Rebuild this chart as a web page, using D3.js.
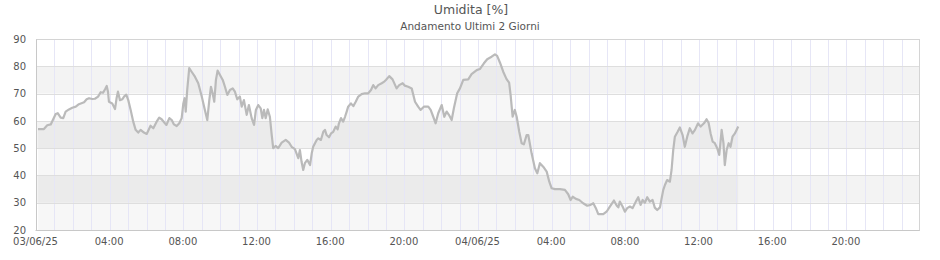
<!DOCTYPE html>
<html>
<head>
<meta charset="utf-8">
<script src="https://cdn.jsdelivr.net/npm/d3@7"></script>
<style>
  html, body { margin: 0; padding: 0; background: #fff; }
  svg { display: block; }
  text { font-family: "DejaVu Sans", sans-serif; }
</style>
</head>
<body>
<svg id="chart" width="940" height="260"></svg>
<script>
// ---- data ----
const chartTitle = "Umidita [%]";
const chartSubtitle = "Andamento Ultimi 2 Giorni";
const startDate = [2025, 5, 3];      // 03/06/2025 00:00
const spanHours = 48;
const yTicks = [20, 30, 40, 50, 60, 70, 80, 90];
const xLabelHours = [0, 4, 8, 12, 16, 20, 24, 28, 32, 36, 40, 44];

// hours since 03/06/2025 00:00
const hours = [
  0.11, 0.43, 0.61, 0.80, 1.07, 1.18, 1.34, 1.48, 1.61, 1.79, 1.97, 2.16, 2.33, 2.61, 2.75, 2.88,
  3.06, 3.20, 3.37, 3.51, 3.64, 3.75, 3.84, 3.91, 3.96, 4.14, 4.29, 4.38, 4.45, 4.56, 4.69, 4.78,
  4.90, 5.01, 5.14, 5.28, 5.41, 5.55, 5.68, 5.86, 6.01, 6.22, 6.37, 6.55, 6.69, 6.82, 7.00, 7.08,
  7.24, 7.37, 7.49, 7.64, 7.78, 7.91, 8.00, 8.07, 8.13, 8.21, 8.32, 8.45, 8.63, 8.81, 9.00, 9.17,
  9.30, 9.41, 9.50, 9.59, 9.68, 9.77, 9.86, 9.99, 10.14, 10.26, 10.39, 10.53, 10.68, 10.80, 10.93, 11.07,
  11.17, 11.29, 11.44, 11.56, 11.71, 11.84, 11.94, 12.07, 12.20, 12.29, 12.38, 12.47, 12.58, 12.70, 12.80, 12.88,
  13.01, 13.15, 13.34, 13.56, 13.74, 13.88, 14.06, 14.24, 14.33, 14.42, 14.51, 14.60, 14.73, 14.88, 14.97, 15.05,
  15.24, 15.33, 15.47, 15.60, 15.69, 15.78, 15.91, 16.02, 16.14, 16.27, 16.38, 16.45, 16.56, 16.68, 16.78, 16.87,
  16.95, 17.10, 17.23, 17.36, 17.50, 17.68, 17.86, 18.04, 18.19, 18.31, 18.44, 18.58, 18.77, 18.91, 19.00, 19.18,
  19.36, 19.58, 19.72, 19.91, 20.03, 20.21, 20.40, 20.58, 20.75, 20.88, 21.06, 21.30, 21.43, 21.57, 21.70, 21.84,
  22.03, 22.17, 22.30, 22.42, 22.57, 22.69, 22.87, 23.02, 23.20, 23.47, 23.65, 23.93, 24.10, 24.32, 24.50, 24.74,
  24.92, 25.04, 25.19, 25.37, 25.55, 25.69, 25.77, 25.88, 26.00, 26.10, 26.24, 26.37, 26.49, 26.64, 26.73, 26.91,
  27.09, 27.22, 27.36, 27.54, 27.73, 27.87, 28.00, 28.18, 28.45, 28.72, 28.90, 29.03, 29.14, 29.32, 29.50, 29.71,
  29.93, 30.11, 30.26, 30.40, 30.53, 30.80, 30.98, 31.16, 31.38, 31.53, 31.62, 31.70, 31.85, 31.98, 32.10, 32.25,
  32.39, 32.57, 32.70, 32.83, 32.94, 33.06, 33.19, 33.33, 33.48, 33.60, 33.73, 33.88, 33.97, 34.06, 34.15, 34.27,
  34.42, 34.51, 34.60, 34.69, 34.84, 34.96, 35.11, 35.23, 35.36, 35.50, 35.65, 35.78, 35.95, 36.09, 36.27, 36.41,
  36.52, 36.63, 36.74, 36.86, 36.99, 37.10, 37.23, 37.33, 37.40, 37.50, 37.61, 37.71, 37.82, 37.95, 38.13
];
const humidity = [
  57, 57, 58.4, 58.7, 62.5, 62.8, 61.2, 61, 63.4, 64.2, 64.8, 65.2, 66.1, 66.8, 67.9, 68.3,
  68, 68.1, 68.9, 70.5, 70.3, 71.6, 72.8, 70.7, 67, 66.4, 64.3, 68.5, 70.7, 67.6, 67.9, 68.9,
  69.6, 67.6, 64, 59.7, 56.7, 55.7, 56.7, 55.7, 55.2, 58.2, 57.3, 59.7, 61.2, 60.6, 59.1, 58.5,
  61, 60.3, 58.7, 58.1, 59.1, 61, 66.4, 68.3, 63.4, 71.3, 79.3, 78, 76.2, 73.8, 68.9, 64,
  60.3, 67.6, 72.5, 70.1, 67, 75, 78.4, 76.8, 75, 72.5, 69.5, 71.3, 71.9, 70.7, 67.9, 68.9,
  65.2, 67.6, 62.2, 65.8, 61, 58.5, 64, 65.8, 64.6, 61, 64, 61, 64.2, 61.5, 54.8, 50,
  50.8, 50, 52, 53, 52, 50.5, 49.6, 46.3, 49.3, 45, 42, 44.5, 45.7, 43.8, 48, 50.5,
  53, 53.6, 53, 56, 56.7, 54.8, 54, 55.4, 56, 57.9, 56.9, 59.1, 61, 59.7, 61.5, 63.4,
  65.2, 66.4, 65.4, 67, 68.9, 69.8, 70.1, 70.1, 71.3, 73.1, 71.9, 73.1, 73.8, 74.4, 75, 76.4,
  75.2, 71.9, 73.1, 73.8, 72.9, 72.5, 71.9, 67, 65.2, 64, 65.2, 65.2, 64, 61.5, 59.1, 62.8,
  65.8, 61.5, 63.4, 62.2, 60.3, 64.6, 70.1, 71.9, 75, 75.2, 77.1, 78.6, 79, 81.1, 82.6, 83.5,
  84.4, 83.8, 81.4, 78, 75.3, 74, 69.5, 61.5, 64, 61.5, 56, 51.8, 51.4, 54.8, 54.8, 48.1,
  42.6, 40.8, 44.5, 43.2, 41.4, 37.7, 35.3, 35, 35, 34.7, 33.1, 31, 32.2, 31.4, 31, 29.8,
  28.9, 29.2, 29.8, 28, 25.8, 25.8, 26.7, 28.6, 30.8, 29, 28.3, 30.4, 28.6, 26.7, 28, 28.6,
  28, 30.4, 32, 29.2, 31, 30, 32, 30.4, 31, 28.2, 27.3, 28.3, 31.6, 34.7, 36.5, 38.3,
  37.7, 42, 49.3, 54.2, 56, 57.6, 54.8, 50.5, 54.2, 57.3, 55.4, 56.7, 59.1, 57.9, 59.1, 60.6,
  59.3, 55.4, 52.4, 51.8, 50, 47.5, 56.7, 51.8, 43.8, 49.3, 51.8, 50.5, 54.2, 55.4, 57.9
];

// ---- layout ----
const svg = d3.select("#chart");
const mLeft = 36, mRight = 920, mTop = 39, mBottom = 230;
const t0 = new Date(startDate[0], startDate[1], startDate[2], 0, 0, 0);
const toDate = h => new Date(t0.getTime() + h * 3600 * 1000);
const t1 = toDate(spanHours);

const x = d3.scaleTime().domain([t0, t1]).range([mLeft, mRight]);
const y = d3.scaleLinear().domain([20, 90]).range([mBottom, mTop]);

const data = hours.map((h, i) => ({ t: toDate(h), v: humidity[i] }));

// bands
const bandPairs = d3.pairs(yTicks);
svg.append("g").selectAll("rect").data(bandPairs).join("rect")
  .attr("x", mLeft).attr("width", mRight - mLeft)
  .attr("y", d => y(d[1])).attr("height", d => y(d[0]) - y(d[1]))
  .attr("fill", (d, i) => (i % 2 === 1) ? "#f3f3f3" : "#ffffff");

// area fill
svg.append("path").datum(data)
  .attr("d", d3.area().x(d => x(d.t)).y0(y(20)).y1(d => y(d.v)))
  .attr("fill", "rgba(0,0,0,0.032)");

// vertical grid: every hour
const hourTicks = d3.timeHour.range(t0, t1).slice(1);
svg.append("g").selectAll("line").data(hourTicks).join("line")
  .attr("x1", d => Math.round(x(d)) + 0.5).attr("x2", d => Math.round(x(d)) + 0.5)
  .attr("y1", mTop).attr("y2", mBottom)
  .attr("stroke", "#e6e6f6").attr("stroke-width", 1);

// horizontal grid
svg.append("g").selectAll("line").data(yTicks.slice(1, -1)).join("line")
  .attr("x1", mLeft).attr("x2", mRight)
  .attr("y1", d => Math.round(y(d)) + 0.5).attr("y2", d => Math.round(y(d)) + 0.5)
  .attr("stroke", "#dedede").attr("stroke-width", 1);

// line
svg.append("path").datum(data)
  .attr("d", d3.line().x(d => x(d.t)).y(d => y(d.v)))
  .attr("fill", "none").attr("stroke", "#bababa").attr("stroke-width", 2.2)
  .attr("stroke-linejoin", "round");

// border
svg.append("rect")
  .attr("x", mLeft + 0.5).attr("y", mTop + 0.5)
  .attr("width", mRight - mLeft - 1).attr("height", mBottom - mTop)
  .attr("fill", "none").attr("stroke", "#d4d4d4");

// y axis
const yAxis = d3.axisLeft(y).tickValues(yTicks).tickSize(0).tickPadding(10);
const gy = svg.append("g").attr("transform", `translate(${mLeft},0)`).call(yAxis);
gy.select(".domain").attr("stroke", "#c8c8c8");
gy.selectAll("text").attr("fill", "#555").style("font-size", "10px")
  .style("font-family", "'DejaVu Sans', sans-serif");

// x axis
const fmtDay = d3.timeFormat("%d/%m/%y");
const fmtHour = d3.timeFormat("%H:%M");
const xAxis = d3.axisBottom(x)
  .tickValues(xLabelHours.map(toDate))
  .tickFormat(d => d.getHours() === 0 ? fmtDay(d) : fmtHour(d))
  .tickSize(0).tickPadding(8);
const gx = svg.append("g").attr("transform", `translate(-1,${mBottom})`).call(xAxis);
gx.select(".domain").attr("stroke", "#c8c8c8");
gx.selectAll("text").attr("fill", "#555").style("font-size", "10px")
  .style("font-family", "'DejaVu Sans', sans-serif");

// titles
svg.append("text").attr("x", 471).attr("y", 13.5).attr("text-anchor", "middle")
  .attr("fill", "#555").style("font-size", "12.5px").text(chartTitle);
svg.append("text").attr("x", 470).attr("y", 29.5).attr("text-anchor", "middle")
  .attr("fill", "#555").style("font-size", "10.5px").text(chartSubtitle);
</script>
</body>
</html>
